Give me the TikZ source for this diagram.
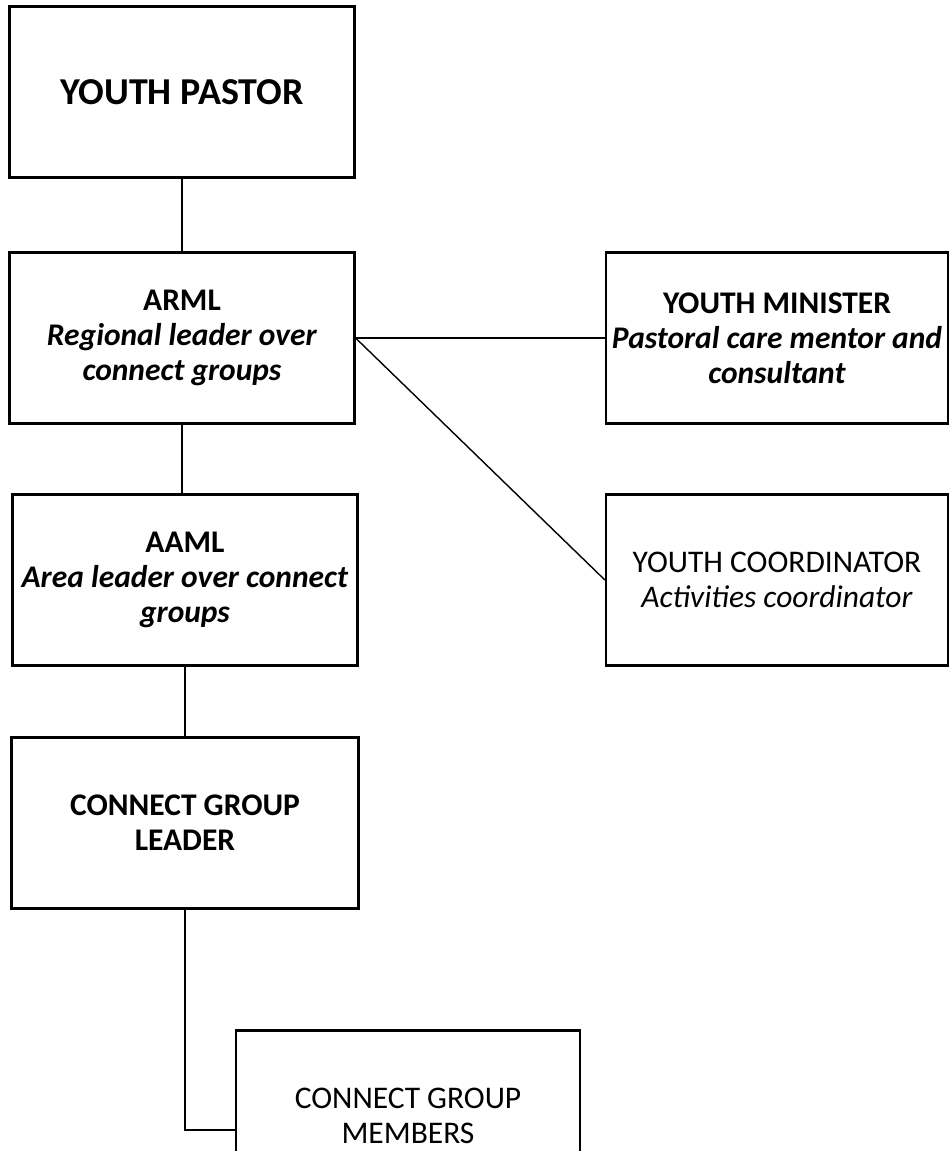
\documentclass[tikz,border=0pt]{standalone}
\usepackage{fontspec}
\setmainfont{Carlito}

\begin{document}
\begin{tikzpicture}[x=1pt,y=-1pt,
    box/.style={draw, rectangle, line width=2.2pt, minimum width=345pt, minimum height=171pt,
      inner sep=0pt, align=center, font=\fontsize{31.5}{35}\selectfont},
    link/.style={line width=1.4pt}]
  \useasboundingbox (0,0) rectangle (952,1151);
  \clip (0,0) rectangle (952,1151);
  \node[box, font=\fontsize{38}{42}\selectfont\bfseries] (pastor) at (182,92) {YOUTH PASTOR};
  \node[box] (arml) at (182,338) {\textbf{ARML}\\\textbf{\itshape Regional leader over}\\\textbf{\itshape connect groups}};
  \node[box] (aaml) at (185,580) {\textbf{AAML}\\\textbf{\itshape Area leader over connect}\\\textbf{\itshape groups}};
  \node[box, minimum width=347pt] (leader) at (185,823) {\textbf{CONNECT GROUP}\\\textbf{LEADER}};
  \node[box, minimum width=344pt] (members) at (408,1116) {CONNECT GROUP\\MEMBERS};
  \node[box, minimum width=342pt] (minister) at (777,338) {\textbf{YOUTH MINISTER}\\\textbf{\itshape Pastoral care mentor and}\\\textbf{\itshape consultant}};
  \node[box, minimum width=342pt] (coord) at (777,580) {YOUTH COORDINATOR\\\textit{Activities coordinator}};
  \draw[link] (pastor) -- (arml);
  \draw[link] (arml.south) -- (arml.south |- aaml.north);
  \draw[link] (aaml) -- (leader);
  \draw[link] (leader.south) |- ([yshift=-14pt]members.west);
  \draw[link] (arml.east) -- (minister.west);
  \draw[link] (arml.east) -- (coord.west);
\end{tikzpicture}
\end{document}
